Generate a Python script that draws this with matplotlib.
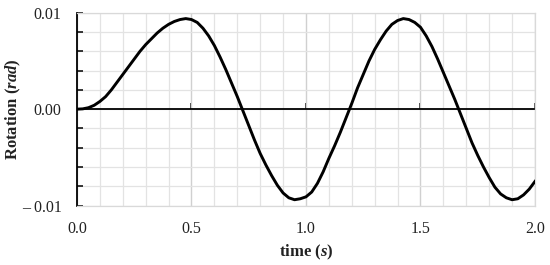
import numpy as np
import matplotlib.pyplot as plt
from matplotlib.ticker import MultipleLocator, FixedLocator, FuncFormatter

# time (s) and rotation (rad)
time = [0.0, 0.025, 0.05, 0.075, 0.1, 0.125, 0.15, 0.175, 0.2, 0.225,
        0.25, 0.275, 0.3, 0.325, 0.35, 0.375, 0.4, 0.425, 0.45, 0.475,
        0.5, 0.525, 0.55, 0.575, 0.6, 0.625, 0.65, 0.675, 0.7, 0.725,
        0.75, 0.775, 0.8, 0.825, 0.85, 0.875, 0.9, 0.925, 0.95, 0.975,
        1.0, 1.025, 1.05, 1.075, 1.1, 1.125, 1.15, 1.175, 1.2, 1.225,
        1.25, 1.275, 1.3, 1.325, 1.35, 1.375, 1.4, 1.425, 1.45, 1.475,
        1.5, 1.525, 1.55, 1.575, 1.6, 1.625, 1.65, 1.675, 1.7, 1.725,
        1.75, 1.775, 1.8, 1.825, 1.85, 1.875, 1.9, 1.925, 1.95, 1.975, 2.0]
rotation = [0.0, 0.00003, 0.00015, 0.0004, 0.0008, 0.0013, 0.0020, 0.0028, 0.0036, 0.0044,
            0.0052, 0.0060, 0.0067, 0.0073, 0.0079, 0.0084, 0.0088, 0.0091, 0.0093, 0.0094,
            0.0093, 0.0090, 0.0084, 0.0076, 0.0066, 0.0054, 0.0041, 0.0027, 0.0013, -0.0002,
            -0.0017, -0.0032, -0.0046, -0.0058, -0.0069, -0.0079, -0.0087, -0.0092, -0.0094, -0.0093,
            -0.0091, -0.0086, -0.0077, -0.0065, -0.0051, -0.0038, -0.0024, -0.0009, 0.0006, 0.0022,
            0.0036, 0.0050, 0.0062, 0.0072, 0.0081, 0.0088, 0.0092, 0.0094, 0.0093, 0.0090,
            0.0085, 0.0076, 0.0065, 0.0052, 0.0038, 0.0024, 0.0010, -0.0005, -0.0020, -0.0035,
            -0.0048, -0.0060, -0.0071, -0.0081, -0.0088, -0.0092, -0.0094, -0.0093, -0.0089, -0.0083, -0.0075]

x_ticks = [0.0, 0.5, 1.0, 1.5, 2.0]
y_ticks = [-0.01, 0.0, 0.01]
y_labels = ['\u2013 0.01', '0.00', '0.01']

plt.rcParams['font.family'] = 'Liberation Serif'
plt.rcParams['mathtext.fontset'] = 'custom'
plt.rcParams['mathtext.it'] = 'Liberation Serif:italic:bold'
plt.rcParams['mathtext.rm'] = 'Liberation Serif:bold'

fig = plt.figure(figsize=(5.5, 2.65), dpi=100)
ax = fig.add_axes([0.140, 0.2245, 0.8327, 0.7272])

ax.set_xlim(0, 2.0)
ax.set_ylim(-0.01, 0.01)

# grid
ax.xaxis.set_minor_locator(MultipleLocator(0.1))
ax.yaxis.set_minor_locator(MultipleLocator(0.002))
ax.grid(which='minor', color='#e3e3e3', lw=0.9)
ax.grid(which='major', axis='x', color='#d0d0d0', lw=1.0)
ax.grid(which='major', axis='y', color='#e3e3e3', lw=0.9)
ax.set_axisbelow(True)

for s in ['top', 'right', 'bottom']:
    ax.spines[s].set_color('#d9d9d9')
    ax.spines[s].set_linewidth(0.9)
ax.spines['left'].set_color('black')
ax.spines['left'].set_linewidth(1.3)

ax.set_xticks(x_ticks)
ax.set_xticklabels([f'{v:.1f}' for v in x_ticks])
ax.tick_params(axis='x', which='both', length=0, pad=11, labelsize=11.5, colors='#222222')

ax.yaxis.set_major_locator(FixedLocator(y_ticks))
ax.yaxis.set_major_formatter(FuncFormatter(lambda v, p: y_labels[y_ticks.index(round(v, 3))] if round(v, 3) in y_ticks else ''))
ax.tick_params(axis='y', which='both', direction='in', length=4, width=1.1, color='black',
               pad=11, labelsize=11.5, labelcolor='#222222')

# horizontal axis line at zero with upward ticks
ax.axhline(0, color='black', lw=1.3, zorder=2.5)
sec = ax.secondary_xaxis(0.5)
sec.spines['bottom'].set_visible(False)
sec.spines['top'].set_visible(False)
sec.set_xticks(x_ticks[1:])
sec.set_xticklabels([''] * 4)
sec.tick_params(axis='x', direction='out', length=4, width=1.1, color='black',
                labelbottom=False, labeltop=False)
sec.xaxis.set_minor_locator(plt.NullLocator())

ax.plot(time, rotation, color='black', lw=2.1, zorder=3, solid_joinstyle='round')

ax.set_xlabel('time ($s$)', fontsize=12, fontweight='bold', labelpad=4, color='#222222')
ax.set_ylabel('Rotation ($rad$)', fontsize=12, fontweight='bold', color='#222222')
ax.yaxis.set_label_coords(-0.118, 0.5)

fig.savefig('out.png', dpi=100)
